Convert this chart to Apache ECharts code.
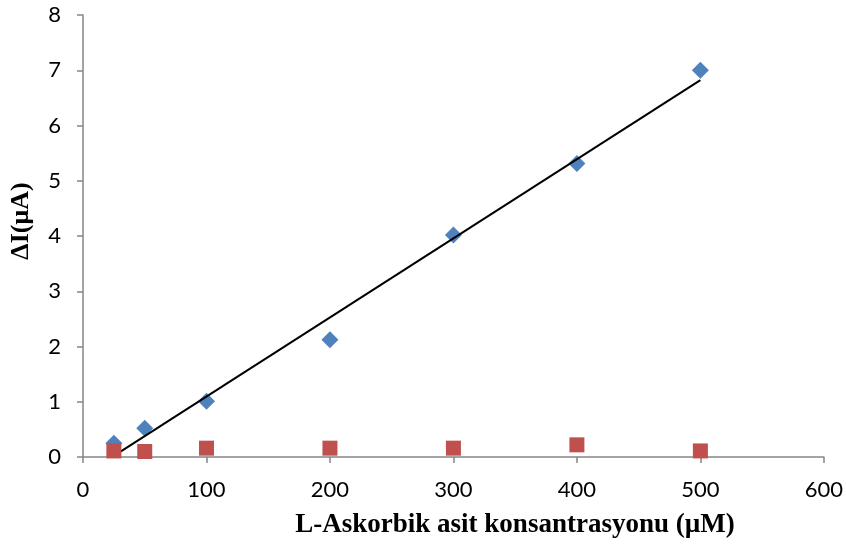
<!DOCTYPE html>
<html>
<head>
<meta charset="utf-8">
<script src="https://cdn.jsdelivr.net/npm/echarts@6/dist/echarts.min.js"></script>
<style>html,body{margin:0;padding:0;background:#fff;}#c{width:846px;height:550px;}</style>
</head>
<body>
<div id="c"></div>
<script>
var concentrations = [25, 50, 100, 200, 300, 400, 500];
var deltaI = [0.25, 0.52, 1.01, 2.12, 4.02, 5.31, 7.0];
var controlI = [0.11, 0.10, 0.16, 0.16, 0.16, 0.22, 0.11];
var trendX = [25, 500];
var trendY = [0.02, 6.82];
var xTitle = 'L-Askorbik asit konsantrasyonu (µM)';
var yTitle = 'ΔI(μA)';

function pairs(xs, ys) { return xs.map(function (x, i) { return [x, ys[i]]; }); }

var chart = echarts.init(document.getElementById('c'), null, { renderer: 'canvas' });
var axisGray = '#868686';
chart.setOption({
  animation: false,
  grid: { left: 83, right: 21, top: 15, bottom: 93, containLabel: false },
  xAxis: {
    type: 'value', min: 0, max: 600, interval: 100,
    axisLine: { lineStyle: { color: axisGray, width: 1.5 } },
    axisTick: { show: true, length: 6, lineStyle: { color: axisGray, width: 1.5 } },
    axisLabel: { color: '#000', fontFamily: 'Lato', fontSize: 22, margin: 22 },
    splitLine: { show: false }
  },
  yAxis: {
    type: 'value', min: 0, max: 8, interval: 1,
    axisLine: { show: true, lineStyle: { color: axisGray, width: 1.5 } },
    axisTick: { show: true, length: 6, lineStyle: { color: axisGray, width: 1.5 } },
    axisLabel: { color: '#000', fontFamily: 'Lato', fontSize: 22, margin: 22 },
    splitLine: { show: false }
  },
  graphic: [
    { type: 'text', x: 515, y: 525, style: { text: xTitle, fontFamily: 'Liberation Serif', fontWeight: 'bold', fontSize: 27, fill: '#000', textAlign: 'center', textVerticalAlign: 'middle' } },
    { type: 'text', x: 21, y: 221, rotation: Math.PI / 2, style: { text: yTitle, fontFamily: 'Liberation Serif', fontWeight: 'bold', fontSize: 26, fill: '#000', textAlign: 'center', textVerticalAlign: 'middle' } }
  ],
  series: [
    { type: 'line', data: pairs(trendX, trendY), symbol: 'none', lineStyle: { color: '#000', width: 2 }, z: 3 },
    { type: 'scatter', data: pairs(concentrations, deltaI), symbol: 'diamond', symbolSize: [17, 17], itemStyle: { color: '#4F81BD', opacity: 1 }, z: 2 },
    { type: 'scatter', data: pairs(concentrations, controlI), symbol: 'rect', symbolSize: 15, itemStyle: { color: '#C0504D', opacity: 1 }, z: 4 }
  ]
});
</script>
</body>
</html>
